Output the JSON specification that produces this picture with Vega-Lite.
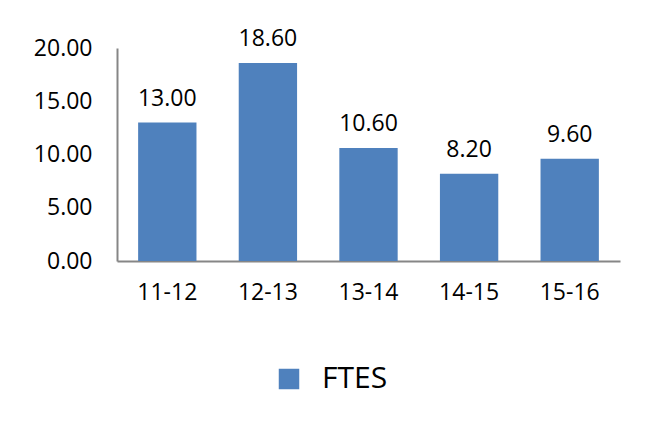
{
  "$schema": "https://vega.github.io/schema/vega-lite/v6.json",
  "width": 503,
  "height": 213,
  "autosize": {"type": "none"},
  "padding": {"left": 117, "top": 48, "right": 30, "bottom": 168},
  "background": "white",
  "config": {"view": {"stroke": null}, "font": "Open Sans"},
  "data": {"values": [
    {"year": "11-12", "value": 13.0, "series": "FTES"},
    {"year": "12-13", "value": 18.6, "series": "FTES"},
    {"year": "13-14", "value": 10.6, "series": "FTES"},
    {"year": "14-15", "value": 8.2, "series": "FTES"},
    {"year": "15-16", "value": 9.6, "series": "FTES"}
  ]},
  "encoding": {
    "x": {"field": "year", "type": "nominal", "sort": null,
      "scale": {"paddingInner": 0.42, "paddingOuter": 0.21},
      "axis": {"title": null, "labelAngle": 0, "labelFontSize": 23, "labelColor": "#000000",
        "labelPadding": 20, "ticks": false, "domainColor": "#868686", "domainWidth": 2}},
    "y": {"field": "value", "type": "quantitative",
      "scale": {"domain": [0, 20]},
      "axis": {"title": null, "values": [0, 5, 10, 15, 20], "format": ".2f", "grid": false,
        "ticks": false, "labelFontSize": 23, "labelColor": "#000000", "labelPadding": 25,
        "domainColor": "#868686", "domainWidth": 2}}
  },
  "layer": [
    {"mark": {"type": "bar", "color": "#4F81BD"},
     "encoding": {"color": {"field": "series", "type": "nominal",
       "scale": {"range": ["#4F81BD"]},
       "legend": {"title": null, "orient": "none", "legendX": 157, "legendY": 316,
         "symbolType": "square", "symbolSize": 420, "labelFontSize": 30, "labelColor": "#000000",
         "labelOffset": 18, "symbolStrokeWidth": 0}}}},
    {"mark": {"type": "text", "baseline": "alphabetic", "dy": -17, "fontSize": 23, "color": "#000000"},
     "encoding": {"text": {"field": "value", "type": "quantitative", "format": ".2f"}}}
  ]
}
